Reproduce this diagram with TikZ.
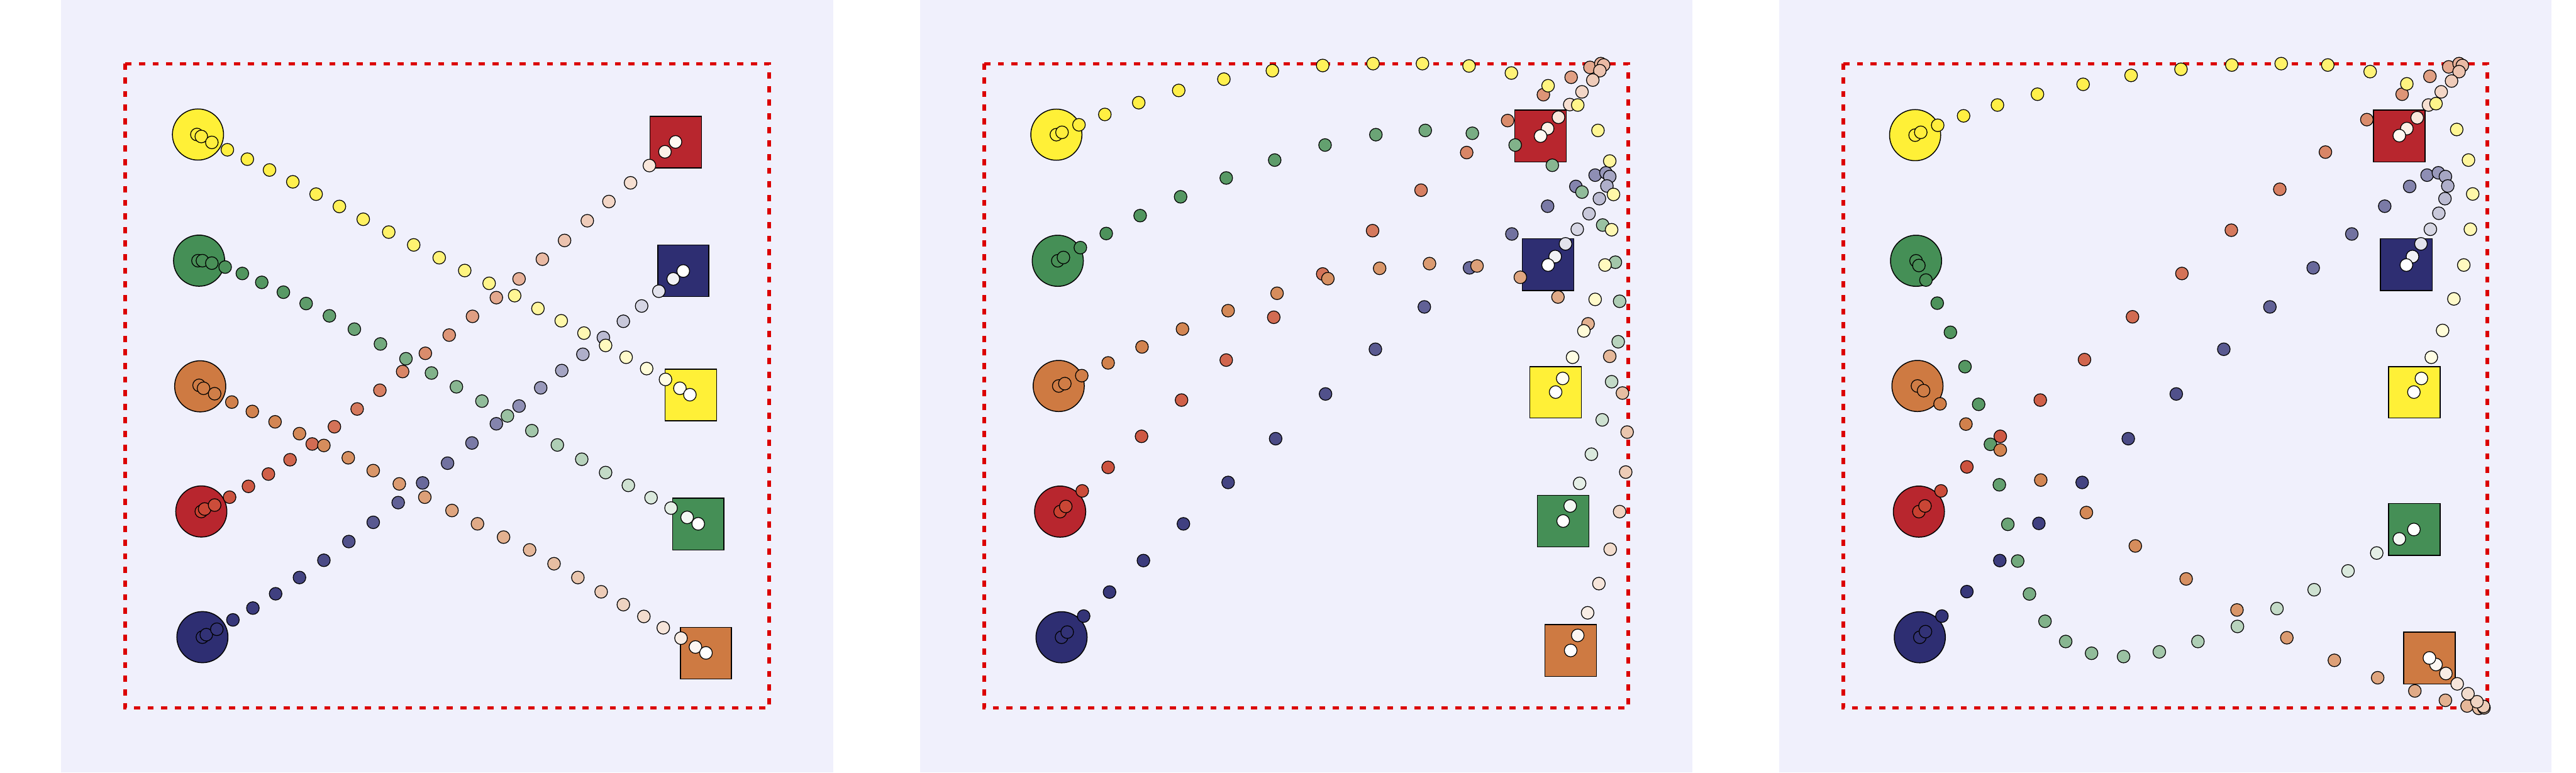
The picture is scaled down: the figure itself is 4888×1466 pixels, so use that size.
\documentclass[tikz,border=0pt]{standalone}
\usepackage{tikz}
\definecolor{bgc}{RGB}{240,240,252}
\definecolor{redline}{RGB}{220,0,0}
\definecolor{cy}{RGB}{255,240,55}
\definecolor{cg}{RGB}{69,143,86}
\definecolor{co}{RGB}{206,122,66}
\definecolor{cr}{RGB}{184,38,46}
\definecolor{cn}{RGB}{46,46,114}
\definecolor{dy}{RGB}{255,238,60}
\definecolor{dg}{RGB}{72,143,86}
\definecolor{dor}{RGB}{208,125,70}
\definecolor{dr}{RGB}{200,64,48}
\definecolor{mr}{RGB}{218,140,108}
\definecolor{dn}{RGB}{50,50,118}
\definecolor{wr}{RGB}{255,250,242}
\tikzset{
  dotst/.style={draw=black, line width=0.42pt},
  goalst/.style={draw=black, line width=0.5pt},
  boundst/.style={draw=redline, line width=0.67mm, dash pattern=on 1.17mm off 1.41mm}
}
\newcommand\drawtrail[3]{%
  \foreach \px/\py [count=\k from 0] in {#3}{%
    \ifnum\k=0 \def\f{0}\else\pgfmathtruncatemacro{\f}{round(100*pow(\k/24,1.7))}\fi
    \filldraw[dotst, fill={#2!\f!#1}] ({\pox+\psx*\px},{\poy+\psy*\py}) circle[radius=1.2mm];
  }}
\newcommand\drawtrailm[4]{%
  \foreach \px/\py [count=\k from 0] in {#4}{%
    \ifnum\k>12
      \pgfmathtruncatemacro{\f}{round(100*(\k-12)/12)}%
      \colorlet{tmpdot}{#3!\f!#2}%
    \else
      \pgfmathtruncatemacro{\f}{round(100*\k/12)}%
      \colorlet{tmpdot}{#2!\f!#1}%
    \fi
    \filldraw[dotst, fill=tmpdot] ({\pox+\psx*\px},{\poy+\psy*\py}) circle[radius=1.2mm];
  }}
\newcommand\goalsq[5]{\filldraw[goalst, fill=#1] ({\pox+\psx*#2},{\poy+\psy*#3}) rectangle ({\pox+\psx*#4},{\poy+\psy*#5});}
\newcommand\startc[3]{\filldraw[goalst, fill=#1] ({\pox+\psx*#2},{\poy+\psy*#3}) circle[radius=4.85mm];}
\begin{document}
\begin{tikzpicture}[x=0.1mm, y=-0.1mm]
\useasboundingbox (0,0) rectangle (4888,1466);
\fill[white] (0,0) rectangle (4888,1466);
% panel backgrounds
\fill[bgc] (115.7,0) rectangle (1581.7,1466);
\fill[bgc] (1745.5,0) rectangle (3211.5,1466);
\fill[bgc] (3375.5,0) rectangle (4841.5,1466);
% bounds
\draw[boundst] (237.7,121) rectangle (1459.7,1343);
\draw[boundst] (1867.5,121) rectangle (3089.5,1343);
\draw[boundst] (3497.5,121) rectangle (4719.5,1343);

% ---------------- Panel 1 ----------------
\def\pox{0}\def\poy{0}\def\psx{1.0523}\def\psy{0.93493}
\startc{cy}{357}{273}
\startc{cg}{359}{529}
\startc{co}{361}{784}
\startc{cr}{363}{1038}
\startc{cn}{365}{1293}
\goalsq{cr}{1172}{236}{1265}{341}
\goalsq{cn}{1186}{497}{1278}{602}
\goalsq{cy}{1199}{749}{1292}{854}
\goalsq{cg}{1213}{1011}{1305}{1116}
\goalsq{co}{1227}{1273}{1319}{1378}
\drawtrail{dn}{white}{365/1293, 372/1288, 391/1277, 420/1258, 456/1234, 497/1205, 540/1172, 584/1137, 629/1099, 673/1060, 718/1020, 762/980, 807/940, 851/899, 895/860, 936/824, 975/787, 1013/752, 1051/719, 1088/685, 1124/652, 1157/621, 1188/591, 1214/566, 1232/550}
\drawtrail{dg}{white}{357/529, 365/529, 382/534, 406/542, 437/555, 472/573, 511/593, 552/616, 594/641, 639/668, 686/698, 732/728, 778/757, 823/785, 869/814, 915/844, 959/874, 1005/903, 1049/932, 1092/959, 1133/985, 1174/1010, 1210/1031, 1239/1050, 1259/1063}
\drawtrailm{dr}{mr}{wr}{363/1038, 369/1033, 387/1025, 414/1009, 448/987, 484/962, 523/933, 563/901, 603/866, 644/830, 685/792, 726/754, 767/717, 810/680, 852/642, 895/604, 936/566, 978/526, 1018/488, 1059/448, 1098/409, 1137/371, 1171/336, 1199/308, 1218/288}
\drawtrail{dor}{white}{359/782, 367/788, 387/799, 418/816, 455/835, 496/856, 540/880, 584/904, 628/929, 673/955, 720/982, 766/1009, 815/1036, 861/1063, 908/1090, 955/1116, 999/1144, 1042/1172, 1084/1201, 1124/1227, 1161/1251, 1196/1274, 1228/1295, 1254/1313, 1273/1325}
\drawtrail{dy}{white}{355/273, 363/277, 382/289, 410/304, 446/323, 486/345, 528/369, 570/394, 612/419, 655/445, 701/471, 746/497, 792/523, 838/549, 882/575, 928/600, 970/626, 1012/651, 1053/676, 1092/701, 1129/725, 1166/748, 1200/770, 1226/788, 1244/801}

% ---------------- Panel 2 ----------------
\def\pox{1800}\def\poy{60}\def\psx{0.892857}\def\psy{0.892857}
\startc{cy}{229}{219}
\startc{cg}{232}{487}
\startc{co}{234}{753}
\startc{cr}{237}{1020}
\startc{cn}{240}{1287}
\goalsq{cr}{1203}{167}{1313}{277}
\goalsq{cn}{1219}{440}{1329}{550}
\goalsq{cy}{1235}{712}{1345}{821}
\goalsq{cg}{1251}{985}{1361}{1095}
\goalsq{co}{1267}{1260}{1377}{1370}
\drawtrail{dn}{white}{240/1287, 252/1276, 287/1242, 342/1191, 414/1124, 499/1046, 594/958, 695/865, 801/770, 907/675, 1011/585, 1107/502, 1197/430, 1273/371, 1333/329, 1374/305, 1397/300, 1405/308, 1399/328, 1383/355, 1361/387, 1336/420, 1311/451, 1289/478, 1274/496}
\drawtrail{dg}{white}{232/487, 244/480, 280/459, 335/429, 407/391, 493/351, 590/311, 693/273, 800/241, 908/219, 1013/210, 1113/216, 1204/241, 1283/284, 1346/341, 1390/411, 1417/490, 1426/573, 1423/659, 1409/744, 1389/825, 1366/898, 1341/960, 1321/1008, 1306/1040}
\drawtrailm{dr}{mr}{wr}{237/1020, 249/1009, 284/976, 339/926, 410/860, 495/783, 590/698, 691/607, 795/515, 901/423, 1004/337, 1101/257, 1188/189, 1264/134, 1323/97, 1363/76, 1386/68, 1392/71, 1384/83, 1369/103, 1346/128, 1320/155, 1296/182, 1273/206, 1258/222}
\drawtrail{dor}{white}{234/753, 247/748, 283/731, 339/704, 411/670, 497/632, 594/593, 698/556, 806/525, 916/503, 1022/493, 1123/498, 1215/522, 1295/564, 1359/621, 1405/690, 1432/768, 1442/851, 1439/936, 1426/1020, 1406/1100, 1382/1173, 1358/1235, 1337/1283, 1322/1315}
\drawtrail{dy}{white}{229/219, 241/214, 277/198, 332/176, 404/151, 489/125, 585/101, 688/83, 795/72, 902/68, 1007/68, 1106/73, 1196/88, 1274/115, 1337/156, 1380/210, 1405/275, 1413/346, 1409/421, 1395/496, 1374/569, 1350/636, 1326/692, 1305/737, 1290/766}

% ---------------- Panel 3 ----------------
\def\pox{3450}\def\poy{60}\def\psx{0.892857}\def\psy{0.892857}
\startc{cy}{206}{220}
\startc{cg}{208}{487}
\startc{co}{211}{753}
\startc{cr}{214}{1020}
\startc{cn}{216}{1287}
\goalsq{cr}{1180}{167}{1290}{277}
\goalsq{cn}{1195}{440}{1305}{550}
\goalsq{cy}{1212}{712}{1322}{821}
\goalsq{cg}{1212}{1003}{1322}{1113}
\goalsq{co}{1244}{1276}{1354}{1386}
\drawtrail{dn}{white}{216/1287, 228/1275, 263/1242, 316/1190, 386/1124, 469/1045, 561/958, 659/865, 761/770, 862/675, 960/585, 1052/502, 1134/430, 1204/371, 1257/329, 1294/305, 1318/300, 1333/308, 1338/328, 1332/355, 1319/386, 1301/420, 1281/451, 1263/478, 1250/496}
\drawtrail{dg}{white}{208/487, 214/497, 229/528, 253/577, 281/639, 312/712, 341/792, 366/877, 385/963, 403/1047, 424/1125, 449/1195, 482/1253, 526/1296, 581/1321, 649/1328, 725/1318, 807/1296, 891/1264, 975/1226, 1054/1186, 1126/1146, 1187/1108, 1235/1078, 1266/1058}
\drawtrailm{dr}{mr}{wr}{214/1020, 227/1008, 261/976, 316/925, 387/860, 472/783, 566/697, 668/606, 773/514, 878/422, 981/335, 1078/256, 1166/187, 1241/133, 1300/95, 1340/75, 1362/68, 1369/72, 1362/85, 1346/105, 1324/128, 1297/156, 1273/183, 1251/206, 1235/221}
\drawtrail{dor}{white}{211/753, 224/763, 259/791, 314/834, 387/889, 473/953, 570/1022, 674/1093, 782/1163, 890/1229, 996/1288, 1097/1336, 1189/1373, 1268/1401, 1333/1421, 1379/1433, 1404/1438, 1415/1437, 1414/1434, 1400/1424, 1381/1407, 1358/1386, 1334/1364, 1313/1345, 1299/1331}
\drawtrail{dy}{white}{206/220, 218/214, 254/199, 309/179, 381/156, 466/133, 563/112, 665/93, 771/80, 879/71, 984/68, 1083/71, 1173/85, 1251/111, 1313/153, 1357/208, 1382/273, 1391/345, 1386/420, 1372/496, 1351/568, 1327/635, 1303/692, 1282/737, 1266/766}
\end{tikzpicture}
\end{document}
